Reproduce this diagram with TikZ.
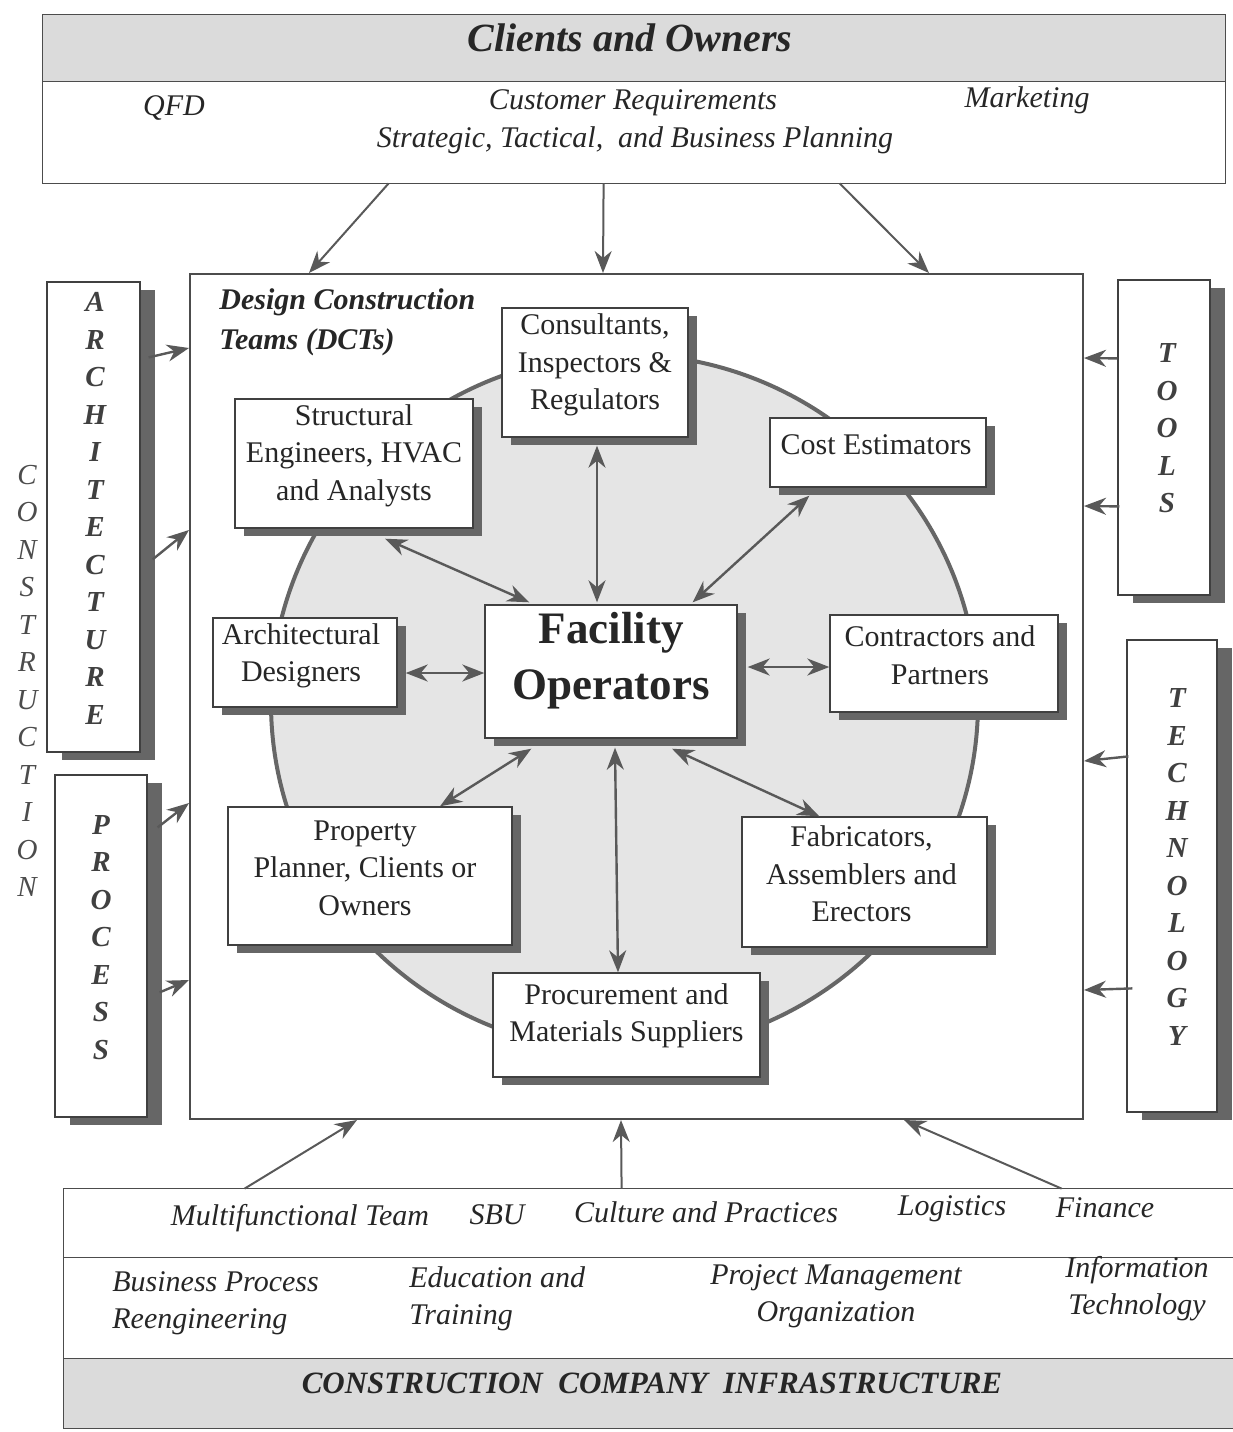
\documentclass[tikz,border=0pt]{standalone}
\usepackage{fontspec}
\setmainfont{Liberation Serif}
\usetikzlibrary{arrows.meta,shadows,calc}
\begin{document}
\begin{tikzpicture}[x=0.5pt,y=-0.5pt,
  >={Stealth[length=11pt,width=8.5pt,inset=3.5pt]},
  ink/.style={text=black!85},
  boxtext/.style={align=center,inner sep=0pt,ink,font=\fontsize{15}{18.75}\selectfont},
  box/.style={draw=black!75,line width=0.7pt,fill=white,inner sep=0pt,
    drop shadow={shadow xshift=4.5pt,shadow yshift=-4pt,fill=black!60,opacity=1}},
  sidebox/.style={draw=black!75,line width=0.6pt,fill=white,inner sep=0pt,
    drop shadow={shadow xshift=7.5pt,shadow yshift=-4pt,fill=black!60,opacity=1}},
  letters/.style={align=center,inner sep=0pt,text=black!75,
    font=\fontsize{14.5}{18.75}\selectfont\bfseries\itshape},
  arr/.style={->,draw=black!65,line width=1.2pt},
  dbl/.style={<->,draw=black!65,line width=1.2pt},
  feed/.style={->,draw=black!65,line width=1pt},
  note/.style={inner sep=0pt,ink,font=\fontsize{15}{18.5}\selectfont\itshape},
  heading/.style={inner sep=0pt,ink,font=\fontsize{20}{24}\selectfont\bfseries\itshape},
  band/.style={fill=black!14},
  frame/.style={draw=black!70,line width=0.6pt}
]
\useasboundingbox (0,0) rectangle (1233,1432);

% ---- Clients and Owners ----
\node[minimum width=591pt,minimum height=84pt,inner sep=0pt] (clients) at (634,99) {};
\fill[band] (clients.north west) rectangle ($(clients.north east)+(0,67)$);
\draw[frame] (clients.north west) rectangle (clients.south east);
\draw[frame] ($(clients.north west)+(0,67)$) -- ($(clients.north east)+(0,67)$);
\node[heading] (ctitle) at (630,38) {Clients and Owners};
\node[note] (qfd) at (174,108) {QFD};
\node[note] (custreq) at (633,103) {Customer Requirements};
\node[note] (mkt) at (1027,100) {Marketing};
\node[note] (strat) at (635,140) {Strategic, Tactical,\ \ and Business Planning};

% ---- Design construction teams ----
\node[draw=black!70,line width=1pt,minimum width=446.5pt,minimum height=422.5pt,inner sep=0pt]
  (dct) at (636.5,696.5) {};
\draw[draw=black!60,line width=2pt,fill=black!10]
  (624.5,703) ellipse [x radius=176.75pt,y radius=174.35pt];
\node[anchor=north west,align=left,inner sep=0pt,ink,
  font=\fontsize{15}{20}\selectfont\bfseries\itshape]
  (dcttitle) at ($(dct.north west)+(30,15)$) {Design Construction\\Teams (DCTs)};

\node[box,minimum width=93pt,minimum height=64.5pt,
  label={[boxtext,yshift=3.75pt]center:{Consultants,\\Inspectors \&\\Regulators}}]
  (cons) at (595,372.5) {};
\node[box,minimum width=119pt,minimum height=64.5pt,
  label={[boxtext,yshift=4pt]center:{Structural\\Engineers, HVAC\\and Analysts}}]
  (struct) at (354,463.5) {};
\node[box,minimum width=108pt,minimum height=34.5pt,
  label={[boxtext,yshift=3.75pt,xshift=-1pt]center:{Cost Estimators}}]
  (cost) at (878,452.5) {};
\node[box,minimum width=92pt,minimum height=44.5pt,
  label={[boxtext,yshift=3.25pt,xshift=-2pt]center:{Architectural\\Designers}}]
  (arch) at (305,662.5) {};
\node[box,minimum width=126pt,minimum height=66.5pt,
  label={[align=center,inner sep=0pt,ink,yshift=5.5pt,
    font=\fontsize{22.5}{28}\selectfont\bfseries]center:{Facility\\Operators}}]
  (fac) at (611,671.5) {};
\node[box,minimum width=114pt,minimum height=48.5pt,
  label={[boxtext,yshift=4.25pt,xshift=-2pt]center:{Contractors and\\Partners}}]
  (contr) at (944,663.5) {};
\node[box,minimum width=142pt,minimum height=69pt,
  label={[boxtext,yshift=4pt,xshift=-2.5pt]center:{Property\\Planner, Clients or\\Owners}}]
  (prop) at (370,876) {};
\node[box,minimum width=122.5pt,minimum height=65pt,
  label={[boxtext,yshift=4pt,xshift=-1.5pt]center:{Fabricators,\\Assemblers and\\Erectors}}]
  (fab) at (864.5,882) {};
\node[box,minimum width=133.5pt,minimum height=52pt,
  label={[boxtext,yshift=4.5pt]center:{Procurement and\\Materials Suppliers}}]
  (proc) at (626.5,1025) {};

% ---- side columns ----
\node[sidebox,minimum width=46.5pt,minimum height=235pt,
  label={[letters,yshift=4.25pt,xshift=0.75pt]center:{A\\R\\C\\H\\I\\T\\E\\C\\T\\U\\R\\E}}]
  (archbox) at (93.5,517) {};
\node[sidebox,minimum width=46pt,minimum height=171pt,
  label={[letters,yshift=4.25pt]center:{P\\R\\O\\C\\E\\S\\S}}]
  (procbox) at (101,946) {};
\node[sidebox,minimum width=46pt,minimum height=157.5pt,
  label={[letters,yshift=4.5pt,xshift=1.5pt]center:{T\\O\\O\\L\\S}}]
  (toolsbox) at (1164,437.5) {};
\node[sidebox,minimum width=45pt,minimum height=236pt,
  label={[letters,yshift=4.5pt,xshift=2.5pt]center:{T\\E\\C\\H\\N\\O\\L\\O\\G\\Y}}]
  (techbox) at (1172,876) {};
\node[letters,text=black!70,font=\fontsize{14.5}{18.75}\selectfont\itshape]
  (constr) at (27,681) {C\\O\\N\\S\\T\\R\\U\\C\\T\\I\\O\\N};

% ---- Construction company infrastructure ----
\node[minimum width=584.5pt,minimum height=119.5pt,inner sep=0pt] (infra) at (648.5,1308.5) {};
\fill[band] ($(infra.south west)+(0,-70)$) rectangle (infra.south east);
\draw[frame] (infra.north east) -- (infra.north west) -- (infra.south west) -- (infra.south east);
\draw[frame] ($(infra.north west)+(0,69)$) -- ($(infra.north east)+(0,69)$);
\draw[frame] ($(infra.south west)+(0,-70)$) -- ($(infra.south east)+(0,-70)$);
\node[note] (mft) at (300,1218) {Multifunctional Team};
\node[note] (sbu) at (497,1215) {SBU};
\node[note] (cult) at (706,1212) {Culture and Practices};
\node[note] (logi) at (952,1209) {Logistics};
\node[note] (fin) at (1105,1208) {Finance};
\node[note,anchor=west,align=left] (bpr) at (112,1303.5) {Business Process\\Reengineering};
\node[note,anchor=west,align=left] (edu) at (409,1299) {Education and\\Training};
\node[note,align=center] (pmo) at (836,1296.5) {Project Management\\Organization};
\node[note,align=center] (itech) at (1137,1288.5) {Information\\Technology};
\node[inner sep=0pt,ink,font=\fontsize{15.5}{18}\selectfont\bfseries\itshape]
  (infratitle) at (652,1383) {CONSTRUCTION\ \ COMPANY\ \ INFRASTRUCTURE};

% ---- connectors: clients and infrastructure into the teams ----
\draw[feed] ($(clients.south west)+(346,0)$) -- ($(dct.north west)+(120,0)$);
\draw[feed] ($(clients.south west)+(561,0)$) -- ($(dct.north west)+(414,0)$);
\draw[feed] ($(clients.south west)+(797,0)$) -- ($(dct.north west)+(740,0)$);
\draw[feed] ($(infra.north west)+(181,0)$) -- ($(dct.south west)+(168,0)$);
\draw[feed] ($(infra.north west)+(558,0)$) -- ($(dct.south west)+(432,0)$);
\draw[feed] ($(infra.north west)+(998,0)$) -- ($(dct.south west)+(715,0)$);

% ---- connectors: side columns into the teams ----
\draw[arr] ($(archbox.north east)+(8,76)$) -- ($(dct.north west)+(0,75)$);
\draw[arr] ($(archbox.north east)+(12,278)$) -- ($(dct.north west)+(0,257)$);
\draw[arr] ($(procbox.north east)+(10,53)$) -- ($(dct.north west)+(0,530)$);
\draw[arr] ($(procbox.north east)+(12,218)$) -- ($(dct.north west)+(0,707)$);
\draw[arr] ($(toolsbox.north west)+(0,79)$) -- ($(dct.north east)+(0,85)$);
\draw[arr] ($(toolsbox.north west)+(2,227)$) -- ($(dct.north east)+(0,233)$);
\draw[arr] ($(techbox.north west)+(2,117)$) -- ($(dct.north east)+(0,488)$);
\draw[arr] ($(techbox.north west)+(6,349)$) -- ($(dct.north east)+(0,717)$);

% ---- connectors: team members and facility operators ----
\draw[dbl] ($(struct.south)+(31,10)$) -- ($(fac.north west)+(45,-2)$);
\draw[dbl] ($(cons.south)+(2,8)$) -- ($(fac.north)+(-14,-2)$);
\draw[dbl] ($(cost.south west)+(40,8)$) -- ($(fac.north east)+(-45,-2)$);
\draw[dbl] ($(arch.east)+(8,10.5)$) -- ($(fac.west)+(0,1.5)$);
\draw[dbl] ($(fac.east)+(10,-4.5)$) -- ($(contr.west)+(0,3.5)$);
\draw[dbl] ($(fac.south west)+(47,10)$) -- ($(prop.north)+(70,0)$);
\draw[dbl] ($(fac.south)+(4,9)$) -- ($(proc.north)+(-8.5,0)$);
\draw[dbl] ($(fac.south)+(61,10)$) -- ($(fab.north west)+(78,0)$);
\end{tikzpicture}
\end{document}
